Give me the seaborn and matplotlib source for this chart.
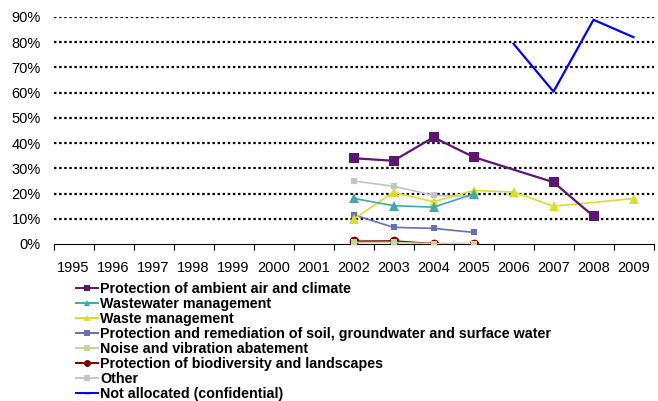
import numpy as np
import pandas as pd
import seaborn as sns
import matplotlib.pyplot as plt
from matplotlib.lines import Line2D

years = list(range(1995, 2010))
nan = np.nan

air = [nan] * 7 + [34.0, 33.0, 42.3, 34.5, nan, 24.5, 11.0, nan]
wastewater = [nan] * 7 + [18.1, 15.2, 14.6, 19.8, nan, nan, nan, nan]
waste = [nan] * 7 + [9.8, 20.5, 16.8, 21.2, 20.6, 15.0, nan, 18.0]
soil = [nan] * 7 + [11.6, 6.6, 6.2, 4.6, nan, nan, nan, nan]
noise = [nan] * 7 + [0.6, 0.6, 0.1, 0.1, nan, nan, nan, nan]
biodiversity = [nan] * 7 + [1.1, 1.2, 0.1, 0.1, nan, nan, nan, nan]
other = [nan] * 7 + [25.0, 22.9, 19.3, 18.9, nan, nan, nan, nan]
not_allocated = [nan] * 11 + [79.4, 60.4, 88.9, 82.0]

labels = ["Protection of ambient air and climate", "Wastewater management",
          "Waste management",
          "Protection and remediation of soil, groundwater and surface water",
          "Noise and vibration abatement",
          "Protection of biodiversity and landscapes", "Other",
          "Not allocated (confidential)"]
values = [air, wastewater, waste, soil, noise, biodiversity, other, not_allocated]

colors = ["#5E1472", "#3FA9AD", "#DCDC2C", "#6670B8", "#BEDB9A",
          "#800000", "#C4C4D0", "#0000FF"]
markers = ["s", "^", "^", "s", "s", "o", "s", None]
msizes = [7, 7, 7, 5, 5, 7, 5, 0]
lwidths = [1.6, 1.2, 1.2, 1.2, 1.2, 1.2, 1.2, 1.6]

plt.rcParams['font.family'] = ['Liberation Sans', 'DejaVu Sans']

fig = plt.figure(figsize=(6.58, 4.01), dpi=100)
ax = fig.add_axes([53.5 / 658, 1 - 244 / 401, 600 / 658, 227 / 401])

# draw from the bottom of the legend list up so the first series sits on top
for i in reversed(range(len(labels))):
    df = pd.DataFrame({"year": years, "value": np.array(values[i]) / 100}).dropna()
    sns.lineplot(data=df, x="year", y="value", ax=ax, color=colors[i],
                 marker=markers[i], markersize=msizes[i], linewidth=lwidths[i],
                 markeredgewidth=0, zorder=3 + (len(labels) - i), legend=False)

ax.set_xlim(1994.5, 2009.5)
ax.set_ylim(0, 0.9)
ax.set_xticks(years)
ax.set_xticklabels([str(y) for y in years], fontsize=10.5)
ax.set_xticks(np.arange(1994.5, 2010, 1), minor=True)
ax.tick_params(axis="x", which="major", length=0, pad=12)
ax.tick_params(axis="x", which="minor", length=4.5, width=0.8, direction="out")
ax.set_yticks(np.arange(0, 0.91, 0.1))
ax.set_yticklabels([f"{int(round(v * 100))}%" for v in np.arange(0, 0.91, 0.1)],
                   fontsize=10.5)
ax.tick_params(axis="y", length=0, pad=9)
ax.set_xlabel("")
ax.set_ylabel("")

for sp in ["top", "right", "left"]:
    ax.spines[sp].set_visible(False)
ax.spines["bottom"].set_linewidth(0.8)

for v in np.arange(0.1, 0.91, 0.1):
    ax.axhline(v, color="black", linewidth=1.6, linestyle=(0, (1.1, 1.2)), zorder=1)

handles = [Line2D([0], [0], color=colors[i], marker=markers[i] if markers[i] else "_",
                  markersize=max(msizes[i] - 2, 4), markeredgewidth=0 if markers[i] else 1,
                  linewidth=1.4) for i in range(len(labels))]
leg = fig.legend(handles, labels, loc="upper left",
                 bbox_to_anchor=(76 / 658, 1 - 282 / 401), frameon=False,
                 borderaxespad=0, borderpad=0, handlelength=1.55,
                 handletextpad=0.15, labelspacing=0.065,
                 prop={"size": 10.3, "weight": "bold"})

fig.savefig("out.png", dpi=100)
